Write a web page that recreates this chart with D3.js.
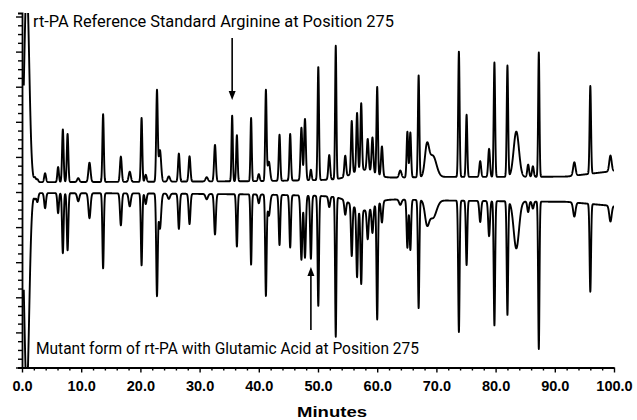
<!DOCTYPE html>
<html>
<head>
<meta charset="utf-8">
<script src="https://cdn.jsdelivr.net/npm/d3@7"></script>
<style>
  body { margin: 0; background: #fff; }
  svg { display: block; }
</style>
</head>
<body>
<div id="chart"></div>
<script>
// Tiempos de retención de los picos (minutos)
const peakTimes = [0.8, 2.2, 2.6, 3.9, 6.1, 6.9, 7.7, 9.5, 11.4, 13.7, 16.7, 18.2, 20.2, 20.9, 22.8, 23.3, 24.8,
  26.5, 28.3, 31.2, 32.6, 35.5, 36.3, 38.7, 40.0, 41.2, 41.7, 43.5, 45.3, 47.2, 47.8, 48.8, 50.05, 51.9, 53.0,
  54.6, 55.7, 56.6, 57.3, 57.5, 58.4, 59.2, 60.0, 60.8, 63.9, 65.1, 65.6, 67.0, 68.4, 69.4, 73.8, 75.1, 77.4,
  78.9, 79.8, 82.0, 83.5, 85.5, 86.3, 87.3, 93.3, 96.0, 99.4];
// Altura de los picos: patrón de referencia (Arg 275)
const upperPeaks = [5.6, 0.12, 0.08, 0.25, 0.43, 1.5, 1.37, 0.11, 0.55, 1.93, 0.72, 0.29, 1.82, 0.2, 2.58, 0.9, 0.15,
  0.8, 0.72, 0.12, 1.04, 1.87, 1.31, 1.8, 0.2, 2.58, 0.55, 1.31, 1.33, 1.5, 1.75, 0.3, 3.23, 0.7, 3.8,
  0.6, 1.5, 1.65, 1.9, 0.25, 0.9, 1.0, 2.5, 0.85, 0.2, 1.3, 1.28, 2.9, 0.83, 0.6, 3.57, 1.77, 0.45,
  0.8, 3.26, 3.17, 1.29, 0.35, 0.3, 3.54, 0.38, 2.5, 0.45];
// Altura de los picos: mutante (Glu 275), se dibuja hacia abajo
const lowerPeaks = [5.6, 0.15, 0.25, 0.43, 0.57, 1.71, 1.63, 0.23, 0.71, 2.14, 0.91, 0.37, 2.05, 0.3, 2.88, 1.0, 0.15,
  1.0, 0.86, 0.15, 1.15, 0, 1.49, 2.0, 0.25, 2.86, 0.6, 1.43, 1.49, 1.83, 1.77, 1.8, 3.14, 0.3, 3.97,
  0.4, 1.45, 1.95, 2.1, 0.35, 0.85, 0.75, 3.3, 0.6, 0.15, 1.37, 1.43, 3.08, 0.6, 0.5, 3.74, 1.83, 0.6,
  1.0, 3.54, 3.23, 1.34, 0.3, 0.2, 4.2, 0.4, 2.5, 0.45];
// Anchura (sigma, minutos) de cada pico
const peakWidths = [0.42, 0.15, 0.15, 0.15, 0.13, 0.13, 0.13, 0.18, 0.18, 0.12, 0.15, 0.18, 0.12, 0.15, 0.13, 0.2, 0.2,
  0.14, 0.15, 0.2, 0.15, 0.11, 0.12, 0.11, 0.15, 0.12, 0.2, 0.13, 0.13, 0.15, 0.15, 0.13, 0.12, 0.15, 0.11,
  0.15, 0.13, 0.13, 0.13, 1.8, 0.15, 0.15, 0.12, 0.15, 0.2, 0.13, 0.13, 0.12, 0.35, 0.6, 0.12, 0.12, 0.15,
  0.15, 0.12, 0.12, 0.45, 0.15, 0.15, 0.11, 0.2, 0.12, 0.2];

// Deriva de la línea base de cada trazo
const baseTimes = [0, 20, 40, 50, 60, 70, 85, 92, 100];
const upperBase = [0.28, 0.29, 0.31, 0.34, 0.40, 0.43, 0.43, 0.44, 0.6];
const lowerBase = [-0.03, -0.04, -0.07, -0.11, -0.2, -0.24, -0.27, -0.28, -0.4];

// Etiquetas y flechas
const xTicks = [0, 10, 20, 30, 40, 50, 60, 70, 80, 90, 100];
const upperLabel = "rt-PA Reference Standard Arginine at Position 275";
const lowerLabel = "Mutant form of rt-PA with Glutamic Acid at Position 275";
const argArrow = { time: 35.5, from: 4.39, to: 2.62 };
const gluArrow = { time: 48.8, from: -3.93, to: -2.14 };

const width = 637;
const height = 420;

const svg = d3.select("#chart")
  .append("svg")
  .attr("width", width)
  .attr("height", height);

const x = d3.scaleLinear().domain([0, 100]).range([22, 614]);
const y = d3.scaleLinear().domain([-5, 5.1]).range([367.5, 13]);

const upperBaseline = d3.scaleLinear().domain(baseTimes).range(upperBase);
const lowerBaseline = d3.scaleLinear().domain(baseTimes).range(lowerBase);

// Suma de picos gaussianos para cada trazo
function signal(t, heights) {
  let s = 0;
  for (let i = 0; i < peakTimes.length; i++) {
    const d = (t - peakTimes[i]) / peakWidths[i];
    if (Math.abs(d) < 8) s += heights[i] * Math.exp(-0.5 * d * d);
  }
  return s;
}

const times = d3.range(0.3, 100.001, 0.02);
const upperTrace = times.map(t => [t, upperBaseline(t) + signal(t, upperPeaks)]);
const lowerTrace = times.map(t => [t, lowerBaseline(t) - signal(t, lowerPeaks)]);

svg.append("clipPath").attr("id", "plot")
  .append("rect")
  .attr("x", x(0)).attr("y", y(5.1))
  .attr("width", x(100) - x(0)).attr("height", y(-5) - y(5.1));

const line = d3.line()
  .x(d => x(d[0]))
  .y(d => y(d[1]));

[upperTrace, lowerTrace].forEach(trace => {
  svg.append("path")
    .datum(trace)
    .attr("clip-path", "url(#plot)")
    .attr("fill", "none")
    .attr("stroke", "#000")
    .attr("stroke-width", 1.9)
    .attr("stroke-linejoin", "round")
    .attr("d", line);
});

// Eje vertical con marcas menores
const yAxis = svg.append("g")
  .attr("transform", `translate(${x(0)},0)`)
  .call(d3.axisLeft(y).tickValues(d3.range(-5, 5.01, 0.25)).tickSize(4).tickFormat(""));
yAxis.selectAll(".tick line")
  .attr("x2", d => Math.abs(d % 1) < 1e-6 ? -6 : -4)
  .attr("stroke-width", 1.4);
yAxis.select(".domain").attr("stroke-width", 1.8);

// Eje horizontal (minutos)
const xAxis = svg.append("g")
  .attr("transform", `translate(0,${y(-5)})`)
  .call(d3.axisBottom(x).tickValues(d3.range(0, 100.01, 2)).tickSizeOuter(0)
    .tickFormat(d => xTicks.includes(d) ? d3.format(".1f")(d) : ""));
xAxis.select(".domain").attr("stroke-width", 1.8);
xAxis.selectAll(".tick line")
  .attr("y2", d => xTicks.includes(d) ? 5 : 3)
  .attr("stroke-width", 1.4);
xAxis.selectAll(".tick text")
  .attr("y", 13)
  .attr("font-family", "'Liberation Sans', Arial, sans-serif")
  .attr("font-weight", "bold")
  .attr("font-size", 14.5)
  .attr("fill", "#000");

svg.append("text")
  .attr("x", 297).attr("y", 417)
  .attr("textLength", 70).attr("lengthAdjust", "spacingAndGlyphs")
  .attr("font-family", "'Liberation Sans', Arial, sans-serif")
  .attr("font-weight", "bold")
  .attr("font-size", 15)
  .text("Minutes");

// Rótulos de los trazos
svg.append("text")
  .attr("x", 33).attr("y", 27)
  .attr("textLength", 361).attr("lengthAdjust", "spacingAndGlyphs")
  .attr("font-family", "Roboto, sans-serif")
  .attr("font-size", 16)
  .text(upperLabel);

svg.append("text")
  .attr("x", 36).attr("y", 354)
  .attr("textLength", 383).attr("lengthAdjust", "spacingAndGlyphs")
  .attr("font-family", "Roboto, sans-serif")
  .attr("font-size", 16)
  .text(lowerLabel);

// Flechas que señalan la posición 275
[argArrow, gluArrow].forEach(a => {
  const ax = x(a.time);
  const y0 = y(a.from);
  const y1 = y(a.to);
  const dir = y1 > y0 ? 1 : -1;
  svg.append("line")
    .attr("x1", ax).attr("x2", ax)
    .attr("y1", y0).attr("y2", y1 - dir * 6)
    .attr("stroke", "#000")
    .attr("stroke-width", 1.6);
  svg.append("path")
    .attr("d", `M${ax - 3.5},${y1 - dir * 9} L${ax + 3.5},${y1 - dir * 9} L${ax},${y1} Z`)
    .attr("fill", "#000");
});
</script>
</body>
</html>
